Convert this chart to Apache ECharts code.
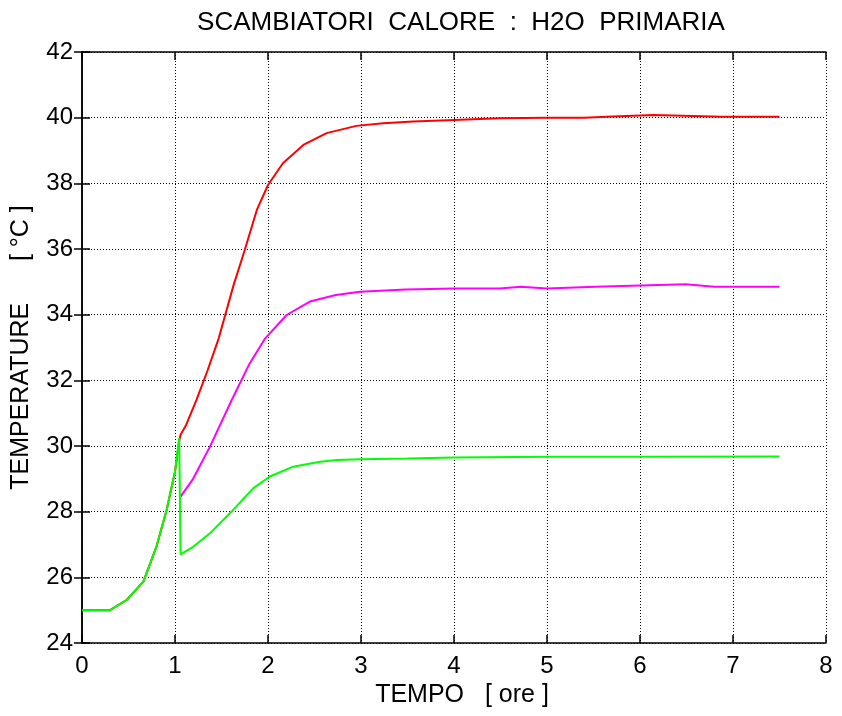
<!DOCTYPE html>
<html>
<head>
    <meta charset="utf-8">
    <script src="https://cdn.jsdelivr.net/npm/echarts@6/dist/echarts.min.js"></script>
    <style>
        html, body { margin: 0; padding: 0; background: #fff; }
        #container { width: 842px; height: 716px; }
    </style>
</head>
<body>
    <div id="container"></div>
    <script type="text/javascript">
        // time [ore] and temperature [°C] per curve
        var timeRed = [0, 0.3, 0.48, 0.66, 0.8, 0.91, 1.0, 1.045, 1.06, 1.12, 1.23, 1.35, 1.47, 1.63, 1.75, 1.88, 2.0, 2.16, 2.38, 2.63, 2.95, 3.24, 3.56, 4.0, 4.49, 5.0, 5.4, 5.64, 6.14, 6.88, 7.5];
        var tempRed = [25, 25, 25.31, 25.87, 26.93, 28.05, 29.22, 30.15, 30.34, 30.64, 31.4, 32.3, 33.28, 34.9, 35.97, 37.19, 37.95, 38.61, 39.17, 39.53, 39.75, 39.83, 39.88, 39.93, 39.98, 40.0, 40.0, 40.03, 40.08, 40.03, 40.03];

        var timeMagenta = [1.06, 1.195, 1.376, 1.61, 1.8, 1.97, 2.2, 2.45, 2.73, 2.99, 3.48, 4.0, 4.49, 4.72, 5.0, 5.52, 6.49, 6.8, 7.5];
        var tempMagenta = [28.46, 29.0, 29.98, 31.4, 32.5, 33.28, 33.99, 34.4, 34.6, 34.7, 34.77, 34.8, 34.8, 34.85, 34.8, 34.85, 34.93, 34.85, 34.85];

        var timeGreen = [0, 0.3, 0.48, 0.66, 0.8, 0.91, 1.0, 1.045, 1.06, 1.08, 1.195, 1.376, 1.59, 1.84, 2.02, 2.27, 2.56, 2.74, 3.0, 3.5, 4.0, 5.0, 6.0, 7.5];
        var tempGreen = [25, 25, 25.31, 25.87, 26.93, 28.05, 29.22, 30.24, 26.7, 26.65, 26.93, 27.34, 27.95, 28.71, 29.07, 29.37, 29.52, 29.57, 29.6, 29.62, 29.65, 29.67, 29.67, 29.68];

        function pairs(xs, ys) {
            var out = [];
            for (var i = 0; i < xs.length; i++) out.push([xs[i], ys[i]]);
            return out;
        }

        var font = 'Liberation Sans, Arial, sans-serif';
        var axisLine = { show: true, lineStyle: { color: '#000', width: 1.5 } };
        var tickIn = { show: true, inside: true, length: 8, lineStyle: { color: '#000', width: 1.5 } };
        var grid = { show: true, lineStyle: { color: '#000', type: [1, 2], width: 1 } };

        var myChart = echarts.init(document.getElementById('container'), null, { renderer: 'canvas' });

        var option = {
            animation: false,
            title: {
                text: 'SCAMBIATORI  CALORE  :  H2O  PRIMARIA',
                left: 456, top: 5, textAlign: 'center',
                textStyle: { fontFamily: font, fontSize: 26, fontWeight: 'normal', color: '#000' }
            },
            grid: { left: 82, right: 16, top: 52, bottom: 73 },
            xAxis: [
                {
                    type: 'value', min: 0, max: 8, interval: 1,
                    name: 'TEMPO   [ ore ]', nameLocation: 'middle', nameGap: 40,
                    nameTextStyle: { fontFamily: font, fontSize: 25, color: '#000', padding: [0, 0, 0, 16] },
                    axisLine: axisLine, axisTick: tickIn, splitLine: grid,
                    axisLabel: { fontFamily: font, fontSize: 24, color: '#000', margin: 11 }
                },
                {
                    type: 'value', position: 'top', min: 0, max: 8, interval: 1,
                    axisLine: axisLine, axisTick: tickIn, splitLine: { show: false },
                    axisLabel: { show: false }
                }
            ],
            yAxis: [
                {
                    type: 'value', min: 24, max: 42, interval: 2,
                    name: 'TEMPERATURE      [ °C ]', nameLocation: 'middle', nameGap: 48,
                    nameTextStyle: { fontFamily: font, fontSize: 25, color: '#000' },
                    axisLine: axisLine, axisTick: tickIn, splitLine: grid,
                    axisLabel: { fontFamily: font, fontSize: 24, color: '#000', margin: 9 }
                },
                {
                    type: 'value', position: 'right', min: 24, max: 42, interval: 2,
                    axisLine: axisLine, axisTick: tickIn, splitLine: { show: false },
                    axisLabel: { show: false }
                }
            ],
            series: [
                {
                    type: 'line', data: pairs(timeRed, tempRed), showSymbol: false,
                    lineStyle: { color: '#ff0000', width: 2 }, z: 3
                },
                {
                    type: 'line', data: pairs(timeMagenta, tempMagenta), showSymbol: false,
                    lineStyle: { color: '#ff00ff', width: 2 }, z: 3
                },
                {
                    type: 'line', data: pairs(timeGreen, tempGreen), showSymbol: false,
                    lineStyle: { color: '#00ff00', width: 2 }, z: 4
                }
            ]
        };

        myChart.setOption(option);
    </script>
</body>
</html>
